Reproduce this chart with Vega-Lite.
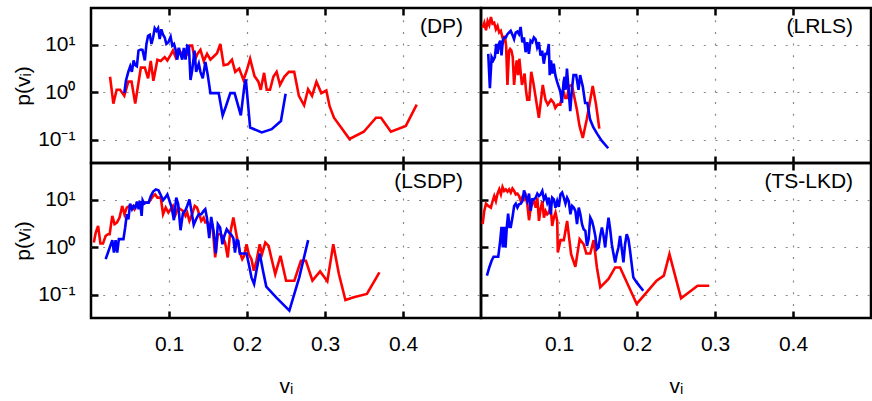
{
"$schema": "https://vega.github.io/schema/vega-lite/v6.json",
"padding": {"left": 11, "top": 5, "right": 0, "bottom": 0},
"datasets": {
"curves": [
{"g":"DP","s":"A","v":0.0244,"p":2.14},{"g":"DP","s":"A","v":0.0287,"p":0.583},{"g":"DP","s":"A","v":0.0329,"p":1.14},{"g":"DP","s":"A","v":0.0372,"p":1.14},{"g":"DP","s":"A","v":0.0427,"p":0.853},{"g":"DP","s":"A","v":0.0478,"p":1.69},{"g":"DP","s":"A","v":0.052,"p":1.69},{"g":"DP","s":"A","v":0.0567,"p":0.583},{"g":"DP","s":"A","v":0.0639,"p":3.34},{"g":"DP","s":"A","v":0.069,"p":3.34},{"g":"DP","s":"A","v":0.0732,"p":1.98},{"g":"DP","s":"A","v":0.0766,"p":4.59},{"g":"DP","s":"A","v":0.08,"p":1.77},{"g":"DP","s":"A","v":0.0851,"p":4.9},{"g":"DP","s":"A","v":0.0894,"p":4.59},{"g":"DP","s":"A","v":0.0945,"p":5.56},{"g":"DP","s":"A","v":0.0979,"p":4.74},{"g":"DP","s":"A","v":0.1021,"p":6.21},{"g":"DP","s":"A","v":0.1051,"p":7.63},{"g":"DP","s":"A","v":0.1085,"p":5.56},{"g":"DP","s":"A","v":0.1119,"p":7.88},{"g":"DP","s":"A","v":0.1153,"p":6.51},{"g":"DP","s":"A","v":0.1191,"p":7.63},{"g":"DP","s":"A","v":0.1234,"p":6.51},{"g":"DP","s":"A","v":0.1263,"p":9.69},{"g":"DP","s":"A","v":0.1297,"p":9.69},{"g":"DP","s":"A","v":0.1331,"p":4.74},{"g":"DP","s":"A","v":0.1365,"p":6.51},{"g":"DP","s":"A","v":0.1403,"p":7.88},{"g":"DP","s":"A","v":0.1446,"p":4.59},{"g":"DP","s":"A","v":0.1488,"p":6.51},{"g":"DP","s":"A","v":0.1531,"p":4.9},{"g":"DP","s":"A","v":0.1586,"p":6.01},{"g":"DP","s":"A","v":0.1616,"p":6.72},{"g":"DP","s":"A","v":0.1658,"p":10.5},{"g":"DP","s":"A","v":0.1701,"p":3.74},{"g":"DP","s":"A","v":0.1756,"p":3.92},{"g":"DP","s":"A","v":0.1807,"p":4.9},{"g":"DP","s":"A","v":0.1849,"p":2.72},{"g":"DP","s":"A","v":0.19,"p":3.19},{"g":"DP","s":"A","v":0.1955,"p":1.83},{"g":"DP","s":"A","v":0.1998,"p":2.94},{"g":"DP","s":"A","v":0.204,"p":5.13},{"g":"DP","s":"A","v":0.2096,"p":2.21},{"g":"DP","s":"A","v":0.2146,"p":1.69},{"g":"DP","s":"A","v":0.2176,"p":1.14},{"g":"DP","s":"A","v":0.2219,"p":2.59},{"g":"DP","s":"A","v":0.2253,"p":1.14},{"g":"DP","s":"A","v":0.2295,"p":1.14},{"g":"DP","s":"A","v":0.2338,"p":2.14},{"g":"DP","s":"A","v":0.238,"p":2.72},{"g":"DP","s":"A","v":0.2423,"p":1.44},{"g":"DP","s":"A","v":0.2478,"p":2.14},{"g":"DP","s":"A","v":0.2537,"p":2.72},{"g":"DP","s":"A","v":0.2605,"p":2.72},{"g":"DP","s":"A","v":0.2665,"p":0.853},{"g":"DP","s":"A","v":0.2732,"p":0.538},{"g":"DP","s":"A","v":0.2783,"p":1.17},{"g":"DP","s":"A","v":0.2834,"p":0.853},{"g":"DP","s":"A","v":0.289,"p":1.69},{"g":"DP","s":"A","v":0.2953,"p":0.97},{"g":"DP","s":"A","v":0.3017,"p":1.1},{"g":"DP","s":"A","v":0.3059,"p":0.513},{"g":"DP","s":"A","v":0.3115,"p":0.294},{"g":"DP","s":"A","v":0.3314,"p":0.105},{"g":"DP","s":"A","v":0.3497,"p":0.149},{"g":"DP","s":"A","v":0.3654,"p":0.294},{"g":"DP","s":"A","v":0.3718,"p":0.294},{"g":"DP","s":"A","v":0.3845,"p":0.149},{"g":"DP","s":"A","v":0.4036,"p":0.198},{"g":"DP","s":"A","v":0.4176,"p":0.556},
{"g":"DP","s":"B","v":0.0427,"p":0.97},{"g":"DP","s":"B","v":0.0448,"p":1.77},{"g":"DP","s":"B","v":0.0478,"p":2.72},{"g":"DP","s":"B","v":0.0503,"p":3.56},{"g":"DP","s":"B","v":0.0524,"p":2.72},{"g":"DP","s":"B","v":0.0546,"p":4.74},{"g":"DP","s":"B","v":0.0567,"p":3.74},{"g":"DP","s":"B","v":0.0588,"p":3.56},{"g":"DP","s":"B","v":0.0609,"p":7.63},{"g":"DP","s":"B","v":0.0639,"p":8.0},{"g":"DP","s":"B","v":0.066,"p":7.88},{"g":"DP","s":"B","v":0.069,"p":4.74},{"g":"DP","s":"B","v":0.0711,"p":10.5},{"g":"DP","s":"B","v":0.0732,"p":15.6},{"g":"DP","s":"B","v":0.0754,"p":16.4},{"g":"DP","s":"B","v":0.0775,"p":10.5},{"g":"DP","s":"B","v":0.0796,"p":14.4},{"g":"DP","s":"B","v":0.0817,"p":22.5},{"g":"DP","s":"B","v":0.0839,"p":19.8},{"g":"DP","s":"B","v":0.086,"p":22.5},{"g":"DP","s":"B","v":0.0881,"p":13.3},{"g":"DP","s":"B","v":0.0902,"p":21.4},{"g":"DP","s":"B","v":0.0924,"p":16.4},{"g":"DP","s":"B","v":0.0945,"p":14.4},{"g":"DP","s":"B","v":0.0966,"p":10.5},{"g":"DP","s":"B","v":0.0992,"p":11.4},{"g":"DP","s":"B","v":0.1021,"p":14.9},{"g":"DP","s":"B","v":0.1042,"p":9.69},{"g":"DP","s":"B","v":0.1064,"p":10.5},{"g":"DP","s":"B","v":0.1085,"p":7.88},{"g":"DP","s":"B","v":0.1106,"p":4.9},{"g":"DP","s":"B","v":0.1127,"p":8.67},{"g":"DP","s":"B","v":0.1149,"p":6.31},{"g":"DP","s":"B","v":0.117,"p":4.9},{"g":"DP","s":"B","v":0.1191,"p":8.67},{"g":"DP","s":"B","v":0.1212,"p":4.9},{"g":"DP","s":"B","v":0.1234,"p":9.69},{"g":"DP","s":"B","v":0.1255,"p":9.24},{"g":"DP","s":"B","v":0.1276,"p":1.83},{"g":"DP","s":"B","v":0.1297,"p":2.94},{"g":"DP","s":"B","v":0.1327,"p":7.63},{"g":"DP","s":"B","v":0.1348,"p":2.72},{"g":"DP","s":"B","v":0.1382,"p":4.04},{"g":"DP","s":"B","v":0.1403,"p":2.72},{"g":"DP","s":"B","v":0.1433,"p":1.98},{"g":"DP","s":"B","v":0.1467,"p":4.38},{"g":"DP","s":"B","v":0.1497,"p":2.32},{"g":"DP","s":"B","v":0.1531,"p":0.97},{"g":"DP","s":"B","v":0.1586,"p":0.97},{"g":"DP","s":"B","v":0.1637,"p":0.97},{"g":"DP","s":"B","v":0.1688,"p":0.329},{"g":"DP","s":"B","v":0.173,"p":0.513},{"g":"DP","s":"B","v":0.1786,"p":0.97},{"g":"DP","s":"B","v":0.1841,"p":0.97},{"g":"DP","s":"B","v":0.1921,"p":0.329},{"g":"DP","s":"B","v":0.1968,"p":1.44},{"g":"DP","s":"B","v":0.1985,"p":1.89},{"g":"DP","s":"B","v":0.204,"p":0.183},{"g":"DP","s":"B","v":0.2189,"p":0.144},{"g":"DP","s":"B","v":0.2316,"p":0.169},{"g":"DP","s":"B","v":0.2435,"p":0.251},{"g":"DP","s":"B","v":0.2495,"p":0.94},
{"g":"LRLS","s":"A","v":0.0021,"p":23.2},{"g":"LRLS","s":"A","v":0.0042,"p":29.4},{"g":"LRLS","s":"A","v":0.0064,"p":20.4},{"g":"LRLS","s":"A","v":0.0085,"p":31.9},{"g":"LRLS","s":"A","v":0.0106,"p":26.3},{"g":"LRLS","s":"A","v":0.0127,"p":38.6},{"g":"LRLS","s":"A","v":0.0148,"p":28.1},{"g":"LRLS","s":"A","v":0.0169,"p":29.4},{"g":"LRLS","s":"A","v":0.0191,"p":21.4},{"g":"LRLS","s":"A","v":0.0212,"p":25.1},{"g":"LRLS","s":"A","v":0.0233,"p":18.3},{"g":"LRLS","s":"A","v":0.0254,"p":19.8},{"g":"LRLS","s":"A","v":0.0275,"p":14.4},{"g":"LRLS","s":"A","v":0.0288,"p":12.3},{"g":"LRLS","s":"A","v":0.0305,"p":15.6},{"g":"LRLS","s":"A","v":0.0322,"p":9.69},{"g":"LRLS","s":"A","v":0.0339,"p":1.44},{"g":"LRLS","s":"A","v":0.036,"p":7.63},{"g":"LRLS","s":"A","v":0.0373,"p":8.27},{"g":"LRLS","s":"A","v":0.039,"p":7.63},{"g":"LRLS","s":"A","v":0.0407,"p":5.56},{"g":"LRLS","s":"A","v":0.0424,"p":1.44},{"g":"LRLS","s":"A","v":0.0441,"p":2.94},{"g":"LRLS","s":"A","v":0.0458,"p":4.74},{"g":"LRLS","s":"A","v":0.0475,"p":2.32},{"g":"LRLS","s":"A","v":0.0492,"p":5.13},{"g":"LRLS","s":"A","v":0.0508,"p":2.72},{"g":"LRLS","s":"A","v":0.0525,"p":1.44},{"g":"LRLS","s":"A","v":0.0542,"p":1.83},{"g":"LRLS","s":"A","v":0.0559,"p":2.51},{"g":"LRLS","s":"A","v":0.0576,"p":1.14},{"g":"LRLS","s":"A","v":0.0593,"p":0.705},{"g":"LRLS","s":"A","v":0.0619,"p":0.705},{"g":"LRLS","s":"A","v":0.0644,"p":2.72},{"g":"LRLS","s":"A","v":0.0669,"p":1.69},{"g":"LRLS","s":"A","v":0.0699,"p":0.826},{"g":"LRLS","s":"A","v":0.0742,"p":0.294},{"g":"LRLS","s":"A","v":0.0792,"p":1.44},{"g":"LRLS","s":"A","v":0.0826,"p":0.705},{"g":"LRLS","s":"A","v":0.0856,"p":0.556},{"g":"LRLS","s":"A","v":0.0898,"p":0.705},{"g":"LRLS","s":"A","v":0.0932,"p":0.601},{"g":"LRLS","s":"A","v":0.0953,"p":0.474},{"g":"LRLS","s":"A","v":0.0983,"p":0.556},{"g":"LRLS","s":"A","v":0.1017,"p":0.556},{"g":"LRLS","s":"A","v":0.1051,"p":1.14},{"g":"LRLS","s":"A","v":0.1081,"p":0.763},{"g":"LRLS","s":"A","v":0.1102,"p":0.763},{"g":"LRLS","s":"A","v":0.1131,"p":1.37},{"g":"LRLS","s":"A","v":0.1165,"p":1.44},{"g":"LRLS","s":"A","v":0.1195,"p":0.826},{"g":"LRLS","s":"A","v":0.1229,"p":0.438},{"g":"LRLS","s":"A","v":0.1263,"p":0.198},{"g":"LRLS","s":"A","v":0.1305,"p":0.11},{"g":"LRLS","s":"A","v":0.1356,"p":0.272},{"g":"LRLS","s":"A","v":0.139,"p":0.556},{"g":"LRLS","s":"A","v":0.1432,"p":1.37},{"g":"LRLS","s":"A","v":0.1475,"p":0.556},{"g":"LRLS","s":"A","v":0.1517,"p":0.174},
{"g":"LRLS","s":"B","v":0.0093,"p":6.51},{"g":"LRLS","s":"B","v":0.0114,"p":1.23},{"g":"LRLS","s":"B","v":0.0136,"p":5.56},{"g":"LRLS","s":"B","v":0.0157,"p":4.74},{"g":"LRLS","s":"B","v":0.0178,"p":5.56},{"g":"LRLS","s":"B","v":0.0195,"p":10.5},{"g":"LRLS","s":"B","v":0.0212,"p":6.51},{"g":"LRLS","s":"B","v":0.0229,"p":10.5},{"g":"LRLS","s":"B","v":0.0246,"p":12.3},{"g":"LRLS","s":"B","v":0.0263,"p":6.01},{"g":"LRLS","s":"B","v":0.028,"p":12.3},{"g":"LRLS","s":"B","v":0.0297,"p":14.4},{"g":"LRLS","s":"B","v":0.0318,"p":14.4},{"g":"LRLS","s":"B","v":0.0339,"p":16.9},{"g":"LRLS","s":"B","v":0.036,"p":18.3},{"g":"LRLS","s":"B","v":0.0381,"p":19.8},{"g":"LRLS","s":"B","v":0.0403,"p":16.4},{"g":"LRLS","s":"B","v":0.0424,"p":13.3},{"g":"LRLS","s":"B","v":0.0445,"p":18.3},{"g":"LRLS","s":"B","v":0.0466,"p":19.2},{"g":"LRLS","s":"B","v":0.0487,"p":16.9},{"g":"LRLS","s":"B","v":0.0508,"p":23.9},{"g":"LRLS","s":"B","v":0.053,"p":11.4},{"g":"LRLS","s":"B","v":0.0551,"p":14.4},{"g":"LRLS","s":"B","v":0.0572,"p":7.05},{"g":"LRLS","s":"B","v":0.0593,"p":11.4},{"g":"LRLS","s":"B","v":0.0614,"p":6.51},{"g":"LRLS","s":"B","v":0.0636,"p":12.3},{"g":"LRLS","s":"B","v":0.0657,"p":11.4},{"g":"LRLS","s":"B","v":0.0678,"p":14.4},{"g":"LRLS","s":"B","v":0.0699,"p":13.3},{"g":"LRLS","s":"B","v":0.072,"p":8.95},{"g":"LRLS","s":"B","v":0.0742,"p":11.4},{"g":"LRLS","s":"B","v":0.0763,"p":6.01},{"g":"LRLS","s":"B","v":0.0784,"p":7.63},{"g":"LRLS","s":"B","v":0.0805,"p":4.04},{"g":"LRLS","s":"B","v":0.0826,"p":6.51},{"g":"LRLS","s":"B","v":0.0847,"p":6.51},{"g":"LRLS","s":"B","v":0.0869,"p":10.5},{"g":"LRLS","s":"B","v":0.0881,"p":2.32},{"g":"LRLS","s":"B","v":0.0898,"p":4.74},{"g":"LRLS","s":"B","v":0.0915,"p":2.51},{"g":"LRLS","s":"B","v":0.0932,"p":4.04},{"g":"LRLS","s":"B","v":0.0953,"p":2.32},{"g":"LRLS","s":"B","v":0.0975,"p":1.69},{"g":"LRLS","s":"B","v":0.0996,"p":1.33},{"g":"LRLS","s":"B","v":0.1017,"p":1.05},{"g":"LRLS","s":"B","v":0.1038,"p":0.601},{"g":"LRLS","s":"B","v":0.1059,"p":1.69},{"g":"LRLS","s":"B","v":0.1072,"p":2.14},{"g":"LRLS","s":"B","v":0.1085,"p":1.14},{"g":"LRLS","s":"B","v":0.1102,"p":3.19},{"g":"LRLS","s":"B","v":0.1123,"p":1.14},{"g":"LRLS","s":"B","v":0.1144,"p":0.404},{"g":"LRLS","s":"B","v":0.1165,"p":1.14},{"g":"LRLS","s":"B","v":0.1186,"p":2.32},{"g":"LRLS","s":"B","v":0.122,"p":2.32},{"g":"LRLS","s":"B","v":0.125,"p":1.14},{"g":"LRLS","s":"B","v":0.1271,"p":2.32},{"g":"LRLS","s":"B","v":0.1305,"p":1.33},{"g":"LRLS","s":"B","v":0.1335,"p":0.601},{"g":"LRLS","s":"B","v":0.1364,"p":0.601},{"g":"LRLS","s":"B","v":0.1398,"p":0.272},{"g":"LRLS","s":"B","v":0.1441,"p":0.183},{"g":"LRLS","s":"B","v":0.1492,"p":0.133},{"g":"LRLS","s":"B","v":0.1547,"p":0.097},{"g":"LRLS","s":"B","v":0.1631,"p":0.067},
{"g":"LSDP","s":"A","v":0.0036,"p":1.27},{"g":"LSDP","s":"A","v":0.0061,"p":2.06},{"g":"LSDP","s":"A","v":0.0091,"p":2.85},{"g":"LSDP","s":"A","v":0.0121,"p":1.21},{"g":"LSDP","s":"A","v":0.0154,"p":1.21},{"g":"LSDP","s":"A","v":0.0188,"p":1.76},{"g":"LSDP","s":"A","v":0.0218,"p":1.9},{"g":"LSDP","s":"A","v":0.0239,"p":1.9},{"g":"LSDP","s":"A","v":0.0273,"p":4.62},{"g":"LSDP","s":"A","v":0.0302,"p":3.09},{"g":"LSDP","s":"A","v":0.0332,"p":3.35},{"g":"LSDP","s":"A","v":0.0366,"p":4.26},{"g":"LSDP","s":"A","v":0.04,"p":7.48},{"g":"LSDP","s":"A","v":0.0429,"p":5.0},{"g":"LSDP","s":"A","v":0.0459,"p":6.9},{"g":"LSDP","s":"A","v":0.0493,"p":7.48},{"g":"LSDP","s":"A","v":0.0526,"p":7.48},{"g":"LSDP","s":"A","v":0.0556,"p":6.37},{"g":"LSDP","s":"A","v":0.0586,"p":8.38},{"g":"LSDP","s":"A","v":0.0619,"p":8.12},{"g":"LSDP","s":"A","v":0.0662,"p":8.79},{"g":"LSDP","s":"A","v":0.0704,"p":8.79},{"g":"LSDP","s":"A","v":0.0738,"p":8.79},{"g":"LSDP","s":"A","v":0.0767,"p":10.3},{"g":"LSDP","s":"A","v":0.0797,"p":12.1},{"g":"LSDP","s":"A","v":0.0822,"p":13.1},{"g":"LSDP","s":"A","v":0.0852,"p":11.2},{"g":"LSDP","s":"A","v":0.0894,"p":11.2},{"g":"LSDP","s":"A","v":0.0924,"p":5.0},{"g":"LSDP","s":"A","v":0.0958,"p":6.9},{"g":"LSDP","s":"A","v":0.0992,"p":5.42},{"g":"LSDP","s":"A","v":0.1021,"p":6.37},{"g":"LSDP","s":"A","v":0.1051,"p":7.48},{"g":"LSDP","s":"A","v":0.1085,"p":5.0},{"g":"LSDP","s":"A","v":0.1118,"p":6.9},{"g":"LSDP","s":"A","v":0.1148,"p":6.37},{"g":"LSDP","s":"A","v":0.1178,"p":5.88},{"g":"LSDP","s":"A","v":0.1211,"p":4.62},{"g":"LSDP","s":"A","v":0.1233,"p":5.42},{"g":"LSDP","s":"A","v":0.1262,"p":3.62},{"g":"LSDP","s":"A","v":0.1296,"p":5.0},{"g":"LSDP","s":"A","v":0.133,"p":7.48},{"g":"LSDP","s":"A","v":0.1359,"p":6.9},{"g":"LSDP","s":"A","v":0.1381,"p":5.42},{"g":"LSDP","s":"A","v":0.1414,"p":3.62},{"g":"LSDP","s":"A","v":0.1444,"p":4.26},{"g":"LSDP","s":"A","v":0.1465,"p":3.35},{"g":"LSDP","s":"A","v":0.1499,"p":3.35},{"g":"LSDP","s":"A","v":0.1529,"p":2.63},{"g":"LSDP","s":"A","v":0.1558,"p":2.85},{"g":"LSDP","s":"A","v":0.1592,"p":0.617},{"g":"LSDP","s":"A","v":0.1626,"p":1.9},{"g":"LSDP","s":"A","v":0.1655,"p":1.9},{"g":"LSDP","s":"A","v":0.1685,"p":1.76},{"g":"LSDP","s":"A","v":0.1719,"p":1.27},{"g":"LSDP","s":"A","v":0.1753,"p":0.617},{"g":"LSDP","s":"A","v":0.1782,"p":1.9},{"g":"LSDP","s":"A","v":0.1825,"p":4.26},{"g":"LSDP","s":"A","v":0.1867,"p":1.76},{"g":"LSDP","s":"A","v":0.1909,"p":0.785},{"g":"LSDP","s":"A","v":0.1939,"p":0.569},{"g":"LSDP","s":"A","v":0.1964,"p":0.669},{"g":"LSDP","s":"A","v":0.1994,"p":1.17},{"g":"LSDP","s":"A","v":0.2023,"p":0.725},{"g":"LSDP","s":"A","v":0.2057,"p":0.569},{"g":"LSDP","s":"A","v":0.2087,"p":0.324},{"g":"LSDP","s":"A","v":0.2121,"p":0.525},{"g":"LSDP","s":"A","v":0.2163,"p":1.17},{"g":"LSDP","s":"A","v":0.2192,"p":0.725},{"g":"LSDP","s":"A","v":0.2235,"p":1.27},{"g":"LSDP","s":"A","v":0.2277,"p":1.08},{"g":"LSDP","s":"A","v":0.2311,"p":0.617},{"g":"LSDP","s":"A","v":0.2362,"p":0.276},{"g":"LSDP","s":"A","v":0.2429,"p":0.669},{"g":"LSDP","s":"A","v":0.2501,"p":0.2},{"g":"LSDP","s":"A","v":0.2607,"p":0.2},{"g":"LSDP","s":"A","v":0.2691,"p":0.525},{"g":"LSDP","s":"A","v":0.2755,"p":0.525},{"g":"LSDP","s":"A","v":0.2839,"p":0.2},{"g":"LSDP","s":"A","v":0.2937,"p":0.314},{"g":"LSDP","s":"A","v":0.303,"p":0.194},{"g":"LSDP","s":"A","v":0.3106,"p":1.17},{"g":"LSDP","s":"A","v":0.3178,"p":0.276},{"g":"LSDP","s":"A","v":0.3262,"p":0.0785},{"g":"LSDP","s":"A","v":0.3368,"p":0.0893},{"g":"LSDP","s":"A","v":0.3537,"p":0.105},{"g":"LSDP","s":"A","v":0.3698,"p":0.299},
{"g":"LSDP","s":"B","v":0.0188,"p":0.569},{"g":"LSDP","s":"B","v":0.0218,"p":0.785},{"g":"LSDP","s":"B","v":0.0247,"p":1.08},{"g":"LSDP","s":"B","v":0.0273,"p":1.43},{"g":"LSDP","s":"B","v":0.0294,"p":0.785},{"g":"LSDP","s":"B","v":0.0315,"p":1.43},{"g":"LSDP","s":"B","v":0.0336,"p":0.785},{"g":"LSDP","s":"B","v":0.0357,"p":1.5},{"g":"LSDP","s":"B","v":0.0387,"p":1.5},{"g":"LSDP","s":"B","v":0.0416,"p":1.5},{"g":"LSDP","s":"B","v":0.0438,"p":2.63},{"g":"LSDP","s":"B","v":0.0459,"p":5.0},{"g":"LSDP","s":"B","v":0.048,"p":3.93},{"g":"LSDP","s":"B","v":0.0501,"p":8.38},{"g":"LSDP","s":"B","v":0.0526,"p":6.37},{"g":"LSDP","s":"B","v":0.0548,"p":7.48},{"g":"LSDP","s":"B","v":0.0569,"p":6.9},{"g":"LSDP","s":"B","v":0.059,"p":9.23},{"g":"LSDP","s":"B","v":0.0611,"p":6.37},{"g":"LSDP","s":"B","v":0.0628,"p":9.5},{"g":"LSDP","s":"B","v":0.0649,"p":4.62},{"g":"LSDP","s":"B","v":0.0662,"p":9.84},{"g":"LSDP","s":"B","v":0.0683,"p":8.38},{"g":"LSDP","s":"B","v":0.0704,"p":8.79},{"g":"LSDP","s":"B","v":0.0738,"p":8.79},{"g":"LSDP","s":"B","v":0.0767,"p":12.1},{"g":"LSDP","s":"B","v":0.0797,"p":15.0},{"g":"LSDP","s":"B","v":0.0831,"p":16.7},{"g":"LSDP","s":"B","v":0.0865,"p":15.9},{"g":"LSDP","s":"B","v":0.0894,"p":12.7},{"g":"LSDP","s":"B","v":0.0924,"p":9.84},{"g":"LSDP","s":"B","v":0.0958,"p":11.6},{"g":"LSDP","s":"B","v":0.0979,"p":13.1},{"g":"LSDP","s":"B","v":0.1,"p":10.3},{"g":"LSDP","s":"B","v":0.1034,"p":6.9},{"g":"LSDP","s":"B","v":0.1063,"p":3.75},{"g":"LSDP","s":"B","v":0.1093,"p":11.2},{"g":"LSDP","s":"B","v":0.1118,"p":8.12},{"g":"LSDP","s":"B","v":0.1148,"p":2.31},{"g":"LSDP","s":"B","v":0.1178,"p":5.17},{"g":"LSDP","s":"B","v":0.1211,"p":6.07},{"g":"LSDP","s":"B","v":0.1233,"p":7.48},{"g":"LSDP","s":"B","v":0.1262,"p":10.3},{"g":"LSDP","s":"B","v":0.1288,"p":5.88},{"g":"LSDP","s":"B","v":0.1317,"p":2.99},{"g":"LSDP","s":"B","v":0.1347,"p":3.93},{"g":"LSDP","s":"B","v":0.1381,"p":5.0},{"g":"LSDP","s":"B","v":0.1414,"p":5.0},{"g":"LSDP","s":"B","v":0.1444,"p":5.88},{"g":"LSDP","s":"B","v":0.1465,"p":6.37},{"g":"LSDP","s":"B","v":0.1486,"p":4.26},{"g":"LSDP","s":"B","v":0.1516,"p":1.57},{"g":"LSDP","s":"B","v":0.1541,"p":4.4},{"g":"LSDP","s":"B","v":0.1571,"p":2.24},{"g":"LSDP","s":"B","v":0.16,"p":0.748},{"g":"LSDP","s":"B","v":0.1626,"p":3.09},{"g":"LSDP","s":"B","v":0.1655,"p":2.63},{"g":"LSDP","s":"B","v":0.1685,"p":1.17},{"g":"LSDP","s":"B","v":0.171,"p":1.76},{"g":"LSDP","s":"B","v":0.174,"p":2.42},{"g":"LSDP","s":"B","v":0.177,"p":2.06},{"g":"LSDP","s":"B","v":0.1795,"p":1.9},{"g":"LSDP","s":"B","v":0.1825,"p":1.57},{"g":"LSDP","s":"B","v":0.1846,"p":0.785},{"g":"LSDP","s":"B","v":0.1867,"p":1.43},{"g":"LSDP","s":"B","v":0.1888,"p":1.38},{"g":"LSDP","s":"B","v":0.1909,"p":0.748},{"g":"LSDP","s":"B","v":0.1951,"p":0.748},{"g":"LSDP","s":"B","v":0.1994,"p":0.748},{"g":"LSDP","s":"B","v":0.2023,"p":0.447},{"g":"LSDP","s":"B","v":0.2057,"p":0.235},{"g":"LSDP","s":"B","v":0.2091,"p":0.17},{"g":"LSDP","s":"B","v":0.2121,"p":0.324},{"g":"LSDP","s":"B","v":0.2163,"p":0.748},{"g":"LSDP","s":"B","v":0.2205,"p":0.324},{"g":"LSDP","s":"B","v":0.2247,"p":0.15},{"g":"LSDP","s":"B","v":0.2374,"p":0.0893},{"g":"LSDP","s":"B","v":0.2543,"p":0.0469},{"g":"LSDP","s":"B","v":0.267,"p":0.235},{"g":"LSDP","s":"B","v":0.2784,"p":1.43},
{"g":"TS","s":"A","v":0.0021,"p":3.09},{"g":"TS","s":"A","v":0.0042,"p":5.88},{"g":"TS","s":"A","v":0.0064,"p":8.38},{"g":"TS","s":"A","v":0.0093,"p":7.48},{"g":"TS","s":"A","v":0.0127,"p":6.9},{"g":"TS","s":"A","v":0.0149,"p":9.5},{"g":"TS","s":"A","v":0.017,"p":12.1},{"g":"TS","s":"A","v":0.0191,"p":9.5},{"g":"TS","s":"A","v":0.0212,"p":13.6},{"g":"TS","s":"A","v":0.0234,"p":16.7},{"g":"TS","s":"A","v":0.0255,"p":13.1},{"g":"TS","s":"A","v":0.0276,"p":18.7},{"g":"TS","s":"A","v":0.0297,"p":15.5},{"g":"TS","s":"A","v":0.0318,"p":16.7},{"g":"TS","s":"A","v":0.034,"p":15.0},{"g":"TS","s":"A","v":0.0361,"p":16.7},{"g":"TS","s":"A","v":0.0382,"p":14.3},{"g":"TS","s":"A","v":0.0403,"p":17.5},{"g":"TS","s":"A","v":0.0425,"p":15.5},{"g":"TS","s":"A","v":0.0446,"p":13.1},{"g":"TS","s":"A","v":0.0467,"p":13.6},{"g":"TS","s":"A","v":0.0488,"p":12.1},{"g":"TS","s":"A","v":0.051,"p":9.5},{"g":"TS","s":"A","v":0.0531,"p":11.6},{"g":"TS","s":"A","v":0.0552,"p":10.3},{"g":"TS","s":"A","v":0.0573,"p":12.1},{"g":"TS","s":"A","v":0.0594,"p":8.12},{"g":"TS","s":"A","v":0.0616,"p":3.75},{"g":"TS","s":"A","v":0.0637,"p":6.9},{"g":"TS","s":"A","v":0.0658,"p":8.38},{"g":"TS","s":"A","v":0.0679,"p":9.5},{"g":"TS","s":"A","v":0.0701,"p":6.9},{"g":"TS","s":"A","v":0.0722,"p":11.2},{"g":"TS","s":"A","v":0.0743,"p":3.62},{"g":"TS","s":"A","v":0.0764,"p":6.37},{"g":"TS","s":"A","v":0.0786,"p":9.5},{"g":"TS","s":"A","v":0.0807,"p":4.26},{"g":"TS","s":"A","v":0.0828,"p":5.88},{"g":"TS","s":"A","v":0.0849,"p":5.0},{"g":"TS","s":"A","v":0.087,"p":5.42},{"g":"TS","s":"A","v":0.0892,"p":7.48},{"g":"TS","s":"A","v":0.0913,"p":2.85},{"g":"TS","s":"A","v":0.0934,"p":4.26},{"g":"TS","s":"A","v":0.0955,"p":5.42},{"g":"TS","s":"A","v":0.0977,"p":3.62},{"g":"TS","s":"A","v":0.0985,"p":0.785},{"g":"TS","s":"A","v":0.1019,"p":1.43},{"g":"TS","s":"A","v":0.1062,"p":1.43},{"g":"TS","s":"A","v":0.1104,"p":3.62},{"g":"TS","s":"A","v":0.1155,"p":0.725},{"g":"TS","s":"A","v":0.121,"p":0.393},{"g":"TS","s":"A","v":0.1265,"p":1.5},{"g":"TS","s":"A","v":0.1316,"p":1.17},{"g":"TS","s":"A","v":0.135,"p":0.748},{"g":"TS","s":"A","v":0.1401,"p":0.748},{"g":"TS","s":"A","v":0.1444,"p":1.43},{"g":"TS","s":"A","v":0.1486,"p":0.38},{"g":"TS","s":"A","v":0.1529,"p":0.145},{"g":"TS","s":"A","v":0.1635,"p":0.217},{"g":"TS","s":"A","v":0.172,"p":0.38},{"g":"TS","s":"A","v":0.1783,"p":0.38},{"g":"TS","s":"A","v":0.1996,"p":0.0648},{"g":"TS","s":"A","v":0.2123,"p":0.114},{"g":"TS","s":"A","v":0.2251,"p":0.2},{"g":"TS","s":"A","v":0.2344,"p":0.255},{"g":"TS","s":"A","v":0.2416,"p":0.725},{"g":"TS","s":"A","v":0.2565,"p":0.0851},{"g":"TS","s":"A","v":0.2777,"p":0.157},{"g":"TS","s":"A","v":0.2926,"p":0.157},
{"g":"TS","s":"B","v":0.0076,"p":0.255},{"g":"TS","s":"B","v":0.0106,"p":0.38},{"g":"TS","s":"B","v":0.0136,"p":0.525},{"g":"TS","s":"B","v":0.0161,"p":0.637},{"g":"TS","s":"B","v":0.0191,"p":0.637},{"g":"TS","s":"B","v":0.0221,"p":0.637},{"g":"TS","s":"B","v":0.0246,"p":1.38},{"g":"TS","s":"B","v":0.0263,"p":2.71},{"g":"TS","s":"B","v":0.028,"p":1.0},{"g":"TS","s":"B","v":0.0297,"p":2.71},{"g":"TS","s":"B","v":0.0314,"p":1.0},{"g":"TS","s":"B","v":0.0331,"p":2.71},{"g":"TS","s":"B","v":0.0348,"p":5.17},{"g":"TS","s":"B","v":0.0365,"p":2.71},{"g":"TS","s":"B","v":0.0382,"p":2.71},{"g":"TS","s":"B","v":0.0403,"p":4.26},{"g":"TS","s":"B","v":0.0425,"p":7.48},{"g":"TS","s":"B","v":0.0446,"p":8.38},{"g":"TS","s":"B","v":0.0467,"p":6.9},{"g":"TS","s":"B","v":0.0488,"p":8.12},{"g":"TS","s":"B","v":0.051,"p":8.38},{"g":"TS","s":"B","v":0.0531,"p":9.5},{"g":"TS","s":"B","v":0.0552,"p":15.9},{"g":"TS","s":"B","v":0.0573,"p":12.1},{"g":"TS","s":"B","v":0.0594,"p":9.5},{"g":"TS","s":"B","v":0.0616,"p":13.6},{"g":"TS","s":"B","v":0.0637,"p":5.88},{"g":"TS","s":"B","v":0.0658,"p":10.3},{"g":"TS","s":"B","v":0.0679,"p":10.3},{"g":"TS","s":"B","v":0.0701,"p":11.2},{"g":"TS","s":"B","v":0.0722,"p":13.6},{"g":"TS","s":"B","v":0.0743,"p":12.1},{"g":"TS","s":"B","v":0.0764,"p":13.1},{"g":"TS","s":"B","v":0.0786,"p":15.5},{"g":"TS","s":"B","v":0.0807,"p":10.3},{"g":"TS","s":"B","v":0.0828,"p":12.1},{"g":"TS","s":"B","v":0.0849,"p":8.79},{"g":"TS","s":"B","v":0.087,"p":11.2},{"g":"TS","s":"B","v":0.0892,"p":5.0},{"g":"TS","s":"B","v":0.0913,"p":11.2},{"g":"TS","s":"B","v":0.0934,"p":10.3},{"g":"TS","s":"B","v":0.0955,"p":6.9},{"g":"TS","s":"B","v":0.0977,"p":9.5},{"g":"TS","s":"B","v":0.0998,"p":7.13},{"g":"TS","s":"B","v":0.1019,"p":13.1},{"g":"TS","s":"B","v":0.104,"p":14.3},{"g":"TS","s":"B","v":0.1062,"p":11.2},{"g":"TS","s":"B","v":0.1083,"p":8.38},{"g":"TS","s":"B","v":0.1104,"p":11.2},{"g":"TS","s":"B","v":0.1125,"p":9.5},{"g":"TS","s":"B","v":0.1146,"p":5.0},{"g":"TS","s":"B","v":0.1168,"p":7.48},{"g":"TS","s":"B","v":0.1189,"p":6.9},{"g":"TS","s":"B","v":0.121,"p":5.88},{"g":"TS","s":"B","v":0.1231,"p":3.09},{"g":"TS","s":"B","v":0.1253,"p":6.9},{"g":"TS","s":"B","v":0.1274,"p":5.0},{"g":"TS","s":"B","v":0.1295,"p":3.09},{"g":"TS","s":"B","v":0.1316,"p":2.42},{"g":"TS","s":"B","v":0.1338,"p":2.24},{"g":"TS","s":"B","v":0.1359,"p":1.08},{"g":"TS","s":"B","v":0.138,"p":1.5},{"g":"TS","s":"B","v":0.1401,"p":4.26},{"g":"TS","s":"B","v":0.1423,"p":3.62},{"g":"TS","s":"B","v":0.1444,"p":2.63},{"g":"TS","s":"B","v":0.1465,"p":1.76},{"g":"TS","s":"B","v":0.1486,"p":0.923},{"g":"TS","s":"B","v":0.1507,"p":1.0},{"g":"TS","s":"B","v":0.1529,"p":1.76},{"g":"TS","s":"B","v":0.155,"p":2.63},{"g":"TS","s":"B","v":0.1571,"p":1.76},{"g":"TS","s":"B","v":0.1592,"p":1.0},{"g":"TS","s":"B","v":0.1614,"p":2.24},{"g":"TS","s":"B","v":0.1635,"p":4.26},{"g":"TS","s":"B","v":0.1656,"p":2.42},{"g":"TS","s":"B","v":0.1677,"p":1.17},{"g":"TS","s":"B","v":0.1699,"p":0.725},{"g":"TS","s":"B","v":0.172,"p":0.485},{"g":"TS","s":"B","v":0.1741,"p":0.725},{"g":"TS","s":"B","v":0.1762,"p":1.0},{"g":"TS","s":"B","v":0.1783,"p":1.76},{"g":"TS","s":"B","v":0.1805,"p":0.923},{"g":"TS","s":"B","v":0.1826,"p":0.485},{"g":"TS","s":"B","v":0.1847,"p":1.17},{"g":"TS","s":"B","v":0.1868,"p":1.9},{"g":"TS","s":"B","v":0.189,"p":1.5},{"g":"TS","s":"B","v":0.1911,"p":0.852},{"g":"TS","s":"B","v":0.1932,"p":0.447},{"g":"TS","s":"B","v":0.1953,"p":0.235},{"g":"TS","s":"B","v":0.1996,"p":0.184},{"g":"TS","s":"B","v":0.2038,"p":0.15},{"g":"TS","s":"B","v":0.2081,"p":0.123}
]
},
"concat": [
{"width": 390, "height": 155, "resolve": {"axis": {"x": "independent"}}, "layer": [
 {"data": {"name": "curves"}, "transform": [{"filter": "datum.g === 'DP'"}], "mark": {"type": "line", "strokeWidth": 2.6, "clip": true},
  "encoding": {
   "x": {"field": "v", "type": "quantitative", "scale": {"domain": [0, 0.5], "nice": false}, "axis": {"orient": "bottom", "values": [0.1, 0.2, 0.3, 0.4], "labels": false, "title": null, "grid": true, "tickSize": -7}},
   "y": {"field": "p", "type": "quantitative", "scale": {"type": "log", "domain": [0.0328, 60], "nice": false}, "axis": {"values": [0.1, 1, 10], "labelExpr": "datum.value > 5 ? '10¹' : datum.value > 0.5 ? '10⁰' : '10⁻¹'", "title": "p(vᵢ)", "grid": true, "tickSize": -7, "labelPadding": 23, "titlePadding": 4}},
   "color": {"field": "s", "type": "nominal", "scale": {"domain": ["A", "B"], "range": ["#ff0000", "#0000ff"]}, "legend": null}}},
 {"data": {"values": [{"label": "(DP)"}]}, "mark": {"type": "text", "align": "right", "baseline": "middle", "fontSize": 21},
  "encoding": {"x": {"datum": 0.477, "type": "quantitative", "axis": {"orient": "top", "values": [0.1, 0.2, 0.3, 0.4], "labels": false, "title": null, "grid": false, "tickSize": -7}}, "y": {"datum": 24, "type": "quantitative"}, "text": {"field": "label"}}}
]},
{"width": 390, "height": 155, "resolve": {"axis": {"x": "independent"}}, "layer": [
 {"data": {"name": "curves"}, "transform": [{"filter": "datum.g === 'LRLS'"}], "mark": {"type": "line", "strokeWidth": 2.6, "clip": true},
  "encoding": {
   "x": {"field": "v", "type": "quantitative", "scale": {"domain": [0, 0.5], "nice": false}, "axis": {"orient": "bottom", "values": [0.1, 0.2, 0.3, 0.4], "labels": false, "title": null, "grid": true, "tickSize": -7}},
   "y": {"field": "p", "type": "quantitative", "scale": {"type": "log", "domain": [0.0328, 60], "nice": false}, "axis": {"values": [0.1, 1, 10], "labels": false, "title": null, "grid": true, "tickSize": -7}},
   "color": {"field": "s", "type": "nominal", "scale": {"domain": ["A", "B"], "range": ["#ff0000", "#0000ff"]}, "legend": null}}},
 {"data": {"values": [{"label": "(LRLS)"}]}, "mark": {"type": "text", "align": "right", "baseline": "middle", "fontSize": 21},
  "encoding": {"x": {"datum": 0.477, "type": "quantitative", "axis": {"orient": "top", "values": [0.1, 0.2, 0.3, 0.4], "labels": false, "title": null, "grid": false, "tickSize": -7}}, "y": {"datum": 24, "type": "quantitative"}, "text": {"field": "label"}}}
]},
{"width": 390, "height": 155, "resolve": {"axis": {"x": "independent"}}, "layer": [
 {"data": {"name": "curves"}, "transform": [{"filter": "datum.g === 'LSDP'"}], "mark": {"type": "line", "strokeWidth": 2.6, "clip": true},
  "encoding": {
   "x": {"field": "v", "type": "quantitative", "scale": {"domain": [0, 0.5], "nice": false}, "axis": {"orient": "bottom", "values": [0.1, 0.2, 0.3, 0.4], "format": ".1f", "title": "vᵢ", "grid": true, "tickSize": -7, "labelPadding": 22, "titlePadding": 21}},
   "y": {"field": "p", "type": "quantitative", "scale": {"type": "log", "domain": [0.0328, 60], "nice": false}, "axis": {"values": [0.1, 1, 10], "labelExpr": "datum.value > 5 ? '10¹' : datum.value > 0.5 ? '10⁰' : '10⁻¹'", "title": "p(vᵢ)", "grid": true, "tickSize": -7, "labelPadding": 23, "titlePadding": 4}},
   "color": {"field": "s", "type": "nominal", "scale": {"domain": ["A", "B"], "range": ["#ff0000", "#0000ff"]}, "legend": null}}},
 {"data": {"values": [{"label": "(LSDP)"}]}, "mark": {"type": "text", "align": "right", "baseline": "middle", "fontSize": 21},
  "encoding": {"x": {"datum": 0.477, "type": "quantitative", "axis": {"orient": "top", "values": [0.1, 0.2, 0.3, 0.4], "labels": false, "title": null, "grid": false, "tickSize": -7}}, "y": {"datum": 24, "type": "quantitative"}, "text": {"field": "label"}}}
]},
{"width": 390, "height": 155, "resolve": {"axis": {"x": "independent"}}, "layer": [
 {"data": {"name": "curves"}, "transform": [{"filter": "datum.g === 'TS'"}], "mark": {"type": "line", "strokeWidth": 2.6, "clip": true},
  "encoding": {
   "x": {"field": "v", "type": "quantitative", "scale": {"domain": [0, 0.5], "nice": false}, "axis": {"orient": "bottom", "values": [0.1, 0.2, 0.3, 0.4], "format": ".1f", "title": "vᵢ", "grid": true, "tickSize": -7, "labelPadding": 22, "titlePadding": 21}},
   "y": {"field": "p", "type": "quantitative", "scale": {"type": "log", "domain": [0.0328, 60], "nice": false}, "axis": {"values": [0.1, 1, 10], "labels": false, "title": null, "grid": true, "tickSize": -7}},
   "color": {"field": "s", "type": "nominal", "scale": {"domain": ["A", "B"], "range": ["#ff0000", "#0000ff"]}, "legend": null}}},
 {"data": {"values": [{"label": "(TS-LKD)"}]}, "mark": {"type": "text", "align": "right", "baseline": "middle", "fontSize": 21},
  "encoding": {"x": {"datum": 0.477, "type": "quantitative", "axis": {"orient": "top", "values": [0.1, 0.2, 0.3, 0.4], "labels": false, "title": null, "grid": false, "tickSize": -7}}, "y": {"datum": 24, "type": "quantitative"}, "text": {"field": "label"}}}
]}
],
"columns": 2,
"spacing": 0,
"bounds": "flush",
"config": {
 "font": "Liberation Sans",
 "view": {"stroke": "#000000", "strokeWidth": 2.5},
 "axis": {"domain": false, "tickColor": "#000000", "tickWidth": 2.5, "labelColor": "#000000", "labelFontSize": 21, "labelFont": "Liberation Sans", "titleColor": "#000000", "titleFontSize": 21, "titleFont": "Liberation Sans", "titleFontWeight": "normal", "gridColor": "#888888", "gridDash": [2, 9.7], "gridWidth": 1.2},
 "text": {"font": "Liberation Sans", "color": "#000000"}
}
}
